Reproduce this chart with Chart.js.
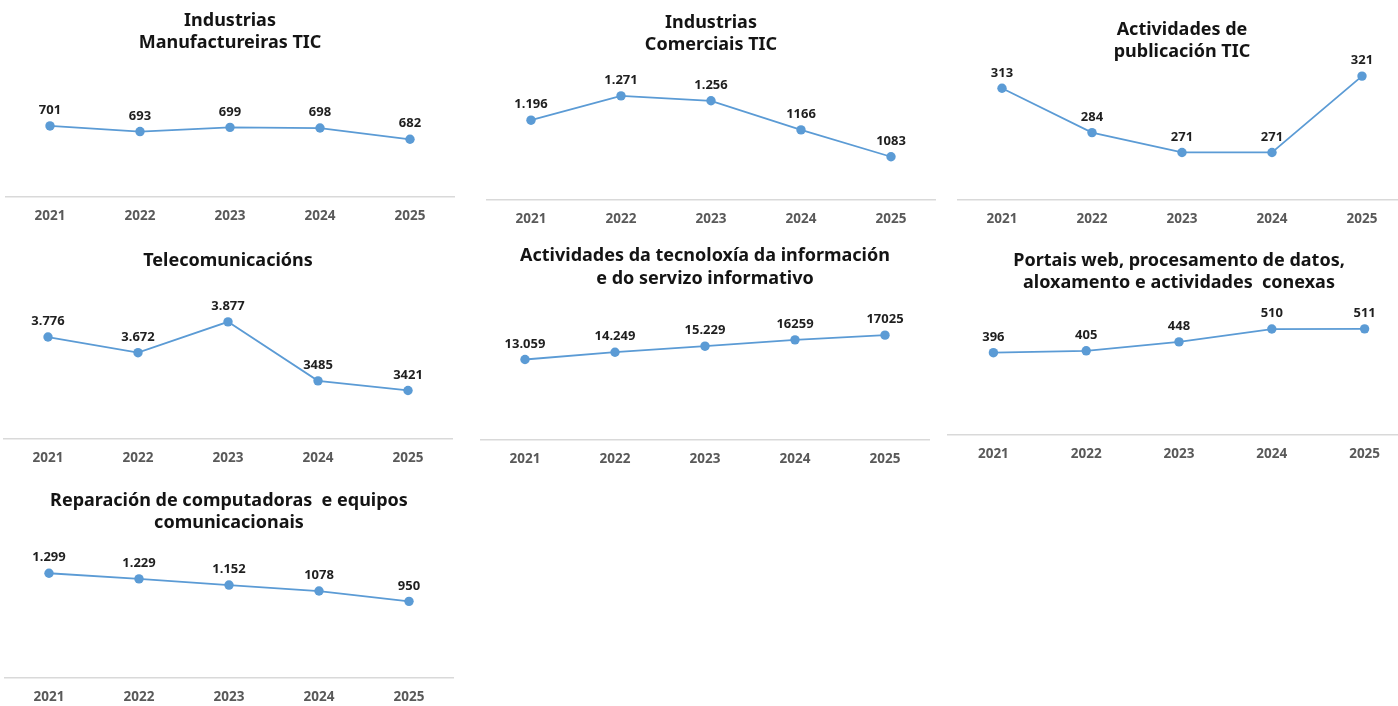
<!DOCTYPE html>
<html>
<head>
<meta charset="utf-8">
<script src="https://cdn.jsdelivr.net/npm/chart.js@4.4.1/dist/chart.umd.min.js"></script>
<style>
  html, body { margin: 0; padding: 0; background: #ffffff; width: 1398px; height: 706px; overflow: hidden; }
  #wrap { position: relative; width: 1398px; height: 706px; overflow: hidden; }
  canvas { position: absolute; }
</style>
</head>
<body>
<div id="wrap"></div>
<script>
// ---- Data ----
const years = ['2021', '2022', '2023', '2024', '2025'];

const manufactureiras = [701, 693, 699, 698, 682];
const manufactureirasLabels = ['701', '693', '699', '698', '682'];

const comerciais = [1196, 1271, 1256, 1166, 1083];
const comerciaisLabels = ['1.196', '1.271', '1.256', '1166', '1083'];

const publicacion = [313, 284, 271, 271, 321];
const publicacionLabels = ['313', '284', '271', '271', '321'];

const telecomunicacions = [3776, 3672, 3877, 3485, 3421];
const telecomunicacionsLabels = ['3.776', '3.672', '3.877', '3485', '3421'];

const tecnoloxia = [13059, 14249, 15229, 16259, 17025];
const tecnoloxiaLabels = ['13.059', '14.249', '15.229', '16259', '17025'];

const portais = [396, 405, 448, 510, 511];
const portaisLabels = ['396', '405', '448', '510', '511'];

const reparacion = [1299, 1229, 1152, 1078, 950];
const reparacionLabels = ['1.299', '1.229', '1.152', '1078', '950'];

// ---- Panels (layout/style only) ----
const FONT = "'Noto Sans', 'DejaVu Sans', sans-serif";
const BLUE = '#5b9bd5';
const TITLE_SIZE = 18;
const TITLE_LH = 22.6;
const TICK_SIZE = 13.5;
const TICK_PAD = 11;
const XAXIS_H = TICK_SIZE * 1.2 + 2 * TICK_PAD;

const panels = [
  { title: ['Industrias', 'Manufactureiras TIC'], data: manufactureiras, labels: manufactureirasLabels,
    left: 5, width: 450, top: 0, line1: 20.5, areaTop: 60, bottom: 197, min: 600, max: 795 },
  { title: ['Industrias', 'Comerciais TIC'], data: comerciais, labels: comerciaisLabels,
    left: 486, width: 450, top: 0, line1: 22.7, areaTop: 60, bottom: 199.3, min: 950, max: 1382 },
  { title: ['Actividades de', 'publicación TIC'], data: publicacion, labels: publicacionLabels,
    left: 957, width: 450, top: 0, line1: 29.5, areaTop: 66, bottom: 199.3, min: 240, max: 327.6 },
  { title: ['Telecomunicacións'], data: telecomunicacions, labels: telecomunicacionsLabels,
    left: 3, width: 450, top: 240, line1: 260.7, areaTop: 300, bottom: 438.3, min: 3100, max: 4022 },
  { title: ['Actividades da tecnoloxía da información', 'e do servizo informativo'], data: tecnoloxia, labels: tecnoloxiaLabels,
    left: 480, width: 450, top: 240, line1: 256, areaTop: 300, bottom: 439.3, min: 0, max: 22740 },
  { title: ['Portais web, procesamento de datos,', 'aloxamento e actividades  conexas'], data: portais, labels: portaisLabels,
    left: 947, width: 464, top: 240, line1: 260.7, areaTop: 300, bottom: 434.3, min: 0, max: 650 },
  { title: ['Reparación de computadoras  e equipos', 'comunicacionais'], data: reparacion, labels: reparacionLabels,
    left: 4, width: 450, top: 470, line1: 500.7, areaTop: 540, bottom: 678.3, min: 0, max: 1712 }
];

const valueLabelPlugin = {
  id: 'valueLabels',
  afterDatasetsDraw(chart, args, opts) {
    const ctx = chart.ctx;
    const meta = chart.getDatasetMeta(0);
    const texts = opts.texts || [];
    ctx.save();
    ctx.font = "bold 13px " + FONT;
    ctx.fillStyle = '#1f1f1f';
    ctx.textAlign = 'center';
    ctx.textBaseline = 'middle';
    meta.data.forEach((pt, i) => {
      ctx.fillText(texts[i], pt.x, pt.y - 15.5);
    });
    ctx.restore();
  }
};

const wrap = document.getElementById('wrap');
panels.forEach(p => {
  const c = document.createElement('canvas');
  const h = Math.round(p.bottom - p.top + XAXIS_H);
  c.width = p.width;
  c.height = h;
  c.style.left = p.left + 'px';
  c.style.top = p.top + 'px';
  c.style.width = p.width + 'px';
  c.style.height = h + 'px';
  wrap.appendChild(c);

  const nLines = p.title.length;
  const padTop = p.line1 - TITLE_LH / 2 - p.top;
  const padBottom = p.areaTop - (p.line1 - TITLE_LH / 2) - nLines * TITLE_LH;

  new Chart(c, {
    type: 'line',
    data: {
      labels: years,
      datasets: [{
        data: p.data,
        borderColor: BLUE,
        backgroundColor: BLUE,
        borderWidth: 1.8,
        pointRadius: 4.7,
        pointBackgroundColor: BLUE,
        pointBorderColor: BLUE,
        pointBorderWidth: 0,
        tension: 0,
        clip: false
      }]
    },
    options: {
      responsive: false,
      animation: false,
      devicePixelRatio: 1,
      layout: { padding: 0, autoPadding: false },
      plugins: {
        legend: { display: false },
        tooltip: { enabled: false },
        title: {
          display: true,
          text: p.title,
          color: '#141414',
          font: { family: FONT, size: TITLE_SIZE, weight: 'bold', lineHeight: TITLE_LH / TITLE_SIZE },
          padding: { top: padTop, bottom: padBottom }
        },
        valueLabels: { texts: p.labels }
      },
      scales: {
        x: {
          type: 'category',
          offset: true,
          grid: { display: false, drawTicks: false },
          border: { display: true, color: '#d9d9d9', width: 1.5 },
          ticks: { color: '#595959', padding: TICK_PAD, font: { family: FONT, size: TICK_SIZE, weight: 'bold' }, maxRotation: 0 }
        },
        y: { display: false, min: p.min, max: p.max }
      }
    },
    plugins: [valueLabelPlugin]
  });
});
</script>
</body>
</html>
